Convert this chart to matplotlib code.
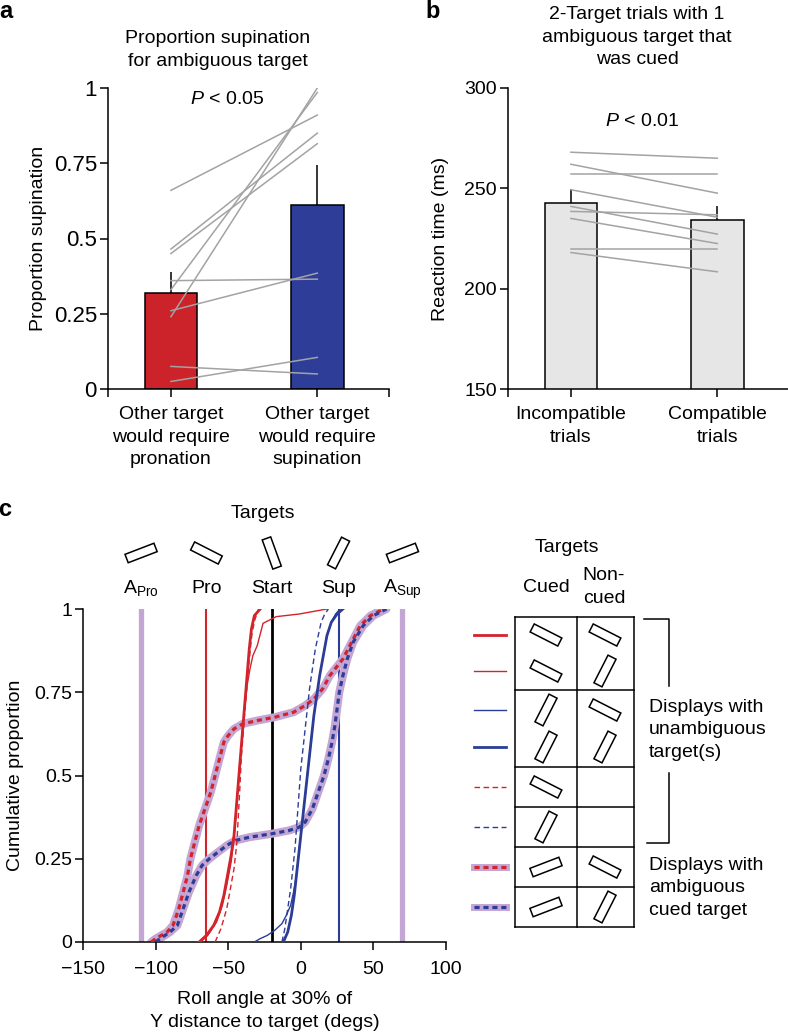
import numpy as np
import matplotlib
matplotlib.use('Agg')
import matplotlib.pyplot as plt
from matplotlib.patches import Polygon
import matplotlib.transforms as mtransforms

plt.rcParams['font.family'] = ['Liberation Sans', 'DejaVu Sans']
plt.rcParams['font.size'] = 14
plt.rcParams['mathtext.fontset'] = 'custom'
plt.rcParams['mathtext.rm'] = 'Liberation Sans'
plt.rcParams['mathtext.it'] = 'Liberation Sans:italic'
plt.rcParams['mathtext.bf'] = 'Liberation Sans:bold'
plt.rcParams['mathtext.default'] = 'regular'
plt.rcParams['axes.linewidth'] = 1.1

# ---- panel a data ----
a_conditions = ['Other target\nwould require\npronation', 'Other target\nwould require\nsupination']
a_means = [0.32, 0.61]
a_sem = [0.07, 0.135]
a_subj_pro = [0.66, 0.465, 0.45, 0.33, 0.24, 0.36, 0.26, 0.075, 0.025]
a_subj_sup = [0.91, 0.85, 0.815, 0.985, 1.0, 0.365, 0.385, 0.05, 0.105]

# ---- panel b data ----
b_conditions = ['Incompatible\ntrials', 'Compatible\ntrials']
b_means = [242.5, 234.0]
b_sem = [7.0, 7.3]
b_subj_incomp = [268, 262, 257.3, 249.3, 241, 238.5, 235, 219.7, 218]
b_subj_comp = [265, 247.6, 257.3, 235.6, 227.2, 236.8, 222.5, 219.7, 208.4]

# ---- panel c data ----
target_names = ['A$_{Pro}$', 'Pro', 'Start', 'Sup', 'A$_{Sup}$']
target_roll = [-110, -65, -20, 26, 70]
target_tilt = [21, -27, -70, 63, 21]

# cumulative curves: roll angle (x) at cumulative proportion (y)
pro_pro_x = [-70, -65, -60, -56, -53, -50.5, -48, -46, -44.5, -43, -41.5, -40, -38.5, -37, -35.5, -34, -32, -28]
pro_pro_y = [0, 0.02, 0.05, 0.09, 0.14, 0.2, 0.26, 0.32, 0.4, 0.48, 0.56, 0.64, 0.72, 0.8, 0.88, 0.94, 0.98, 1.0]

pro_sup_x = [-69, -64, -58, -54, -51, -48, -46, -44.5, -43, -41.5, -40, -38.5, -37, -35, -33, -30, -26, -17, -1, 18]
pro_sup_y = [0, 0.02, 0.06, 0.11, 0.17, 0.24, 0.31, 0.39, 0.48, 0.56, 0.64, 0.71, 0.77, 0.82, 0.86, 0.89, 0.957, 0.977, 0.985, 1.0]

pro_only_x = [-59, -55, -51, -48.5, -46, -44, -43, -42, -41, -39.5, -38, -36.5, -35, -33.5, -31.5, -29]
pro_only_y = [0, 0.04, 0.1, 0.16, 0.22, 0.3, 0.38, 0.46, 0.55, 0.64, 0.72, 0.8, 0.87, 0.93, 0.97, 1.0]

sup_sup_x = [-12, -9, -6.5, -4.5, -3, -1.5, 0, 1.5, 3, 4.5, 6, 7.5, 9, 11, 13, 15.5, 18, 21, 25, 29]
sup_sup_y = [0, 0.03, 0.08, 0.14, 0.2, 0.26, 0.32, 0.38, 0.44, 0.5, 0.56, 0.62, 0.68, 0.74, 0.8, 0.86, 0.92, 0.96, 0.985, 1.0]

sup_pro_x = [-32, -28, -23, -18, -13, -10, -7, -5, -3, -1.5, 0, 1.5, 3, 4.5, 6, 7.5, 9, 11, 13, 15.5, 18, 21, 24, 27]
sup_pro_y = [0, 0.01, 0.02, 0.035, 0.055, 0.08, 0.11, 0.15, 0.2, 0.26, 0.32, 0.38, 0.44, 0.5, 0.56, 0.62, 0.68, 0.74, 0.8, 0.86, 0.92, 0.96, 0.985, 1.0]

sup_only_x = [-13, -11, -9, -7, -5.5, -4, -3, -2, -1, 0, 1.5, 3, 4.5, 6, 8, 10, 12, 14, 16.5, 19]
sup_only_y = [0, 0.04, 0.1, 0.16, 0.22, 0.28, 0.34, 0.4, 0.46, 0.52, 0.58, 0.64, 0.7, 0.76, 0.82, 0.88, 0.92, 0.96, 0.985, 1.0]

amb_pro_x = [-103, -100, -92, -88, -84, -81, -78, -76, -73, -70, -66, -62, -59, -56, -53, -50, -46, -40, -30, -18, -5, 3, 9, 15, 20, 29, 35, 41, 48, 57]
amb_pro_y = [0, 0.01, 0.03, 0.05, 0.1, 0.15, 0.2, 0.25, 0.3, 0.35, 0.4, 0.45, 0.5, 0.55, 0.6, 0.62, 0.64, 0.655, 0.665, 0.675, 0.69, 0.71, 0.73, 0.76, 0.8, 0.85, 0.9, 0.95, 0.98, 1.0]

amb_sup_x = [-100, -97, -90, -85, -81, -77, -72, -68, -63, -57, -51, -45, -35, -20, -8, -1, 3, 8, 12, 16, 19, 21.5, 23.5, 25, 26.5, 29, 32, 36, 43, 50, 59]
amb_sup_y = [0, 0.01, 0.03, 0.05, 0.1, 0.15, 0.2, 0.23, 0.25, 0.27, 0.29, 0.305, 0.315, 0.325, 0.335, 0.345, 0.36, 0.4, 0.45, 0.5, 0.55, 0.6, 0.65, 0.7, 0.75, 0.8, 0.85, 0.9, 0.95, 0.98, 1.0]

RED = '#d3232b'
BLUE = '#2c3d98'
LILAC = '#c4a6d4'
GRAY = '#a3a3a3'

W, H = 788, 1034
fig = plt.figure(figsize=(W / 100, H / 100), dpi=100)


def box(l, t, r, b):
    return [l / W, 1 - b / H, (r - l) / W, (b - t) / H]


def style(ax):
    for s in ['top', 'right']:
        ax.spines[s].set_visible(False)
    ax.tick_params(which='both', direction='out', width=1.1, length=6, pad=2)


# ---------------- panel a ----------------
ax_a = fig.add_axes(box(108, 88, 389, 389))
style(ax_a)
xp = np.arange(1, 3)
ax_a.bar(xp, a_means, width=0.36, color=['#cc2229', '#2e3e98'], edgecolor='black', lw=1.1, zorder=2)
ax_a.errorbar(xp, a_means, yerr=[np.zeros(2), a_sem], fmt='none', ecolor='black', elinewidth=1.1, capsize=0, zorder=1)
for p, s in zip(a_subj_pro, a_subj_sup):
    ax_a.plot([1, 2], [p, s], color=GRAY, lw=1.1, zorder=3)
ax_a.set_xlim(0.57, 2.49)
ax_a.set_ylim(0, 1)
ax_a.set_yticks([0, 0.25, 0.5, 0.75, 1])
ax_a.set_yticklabels(['0', '0.25', '0.5', '0.75', '1'], fontsize=16)
ax_a.set_xticks(xp)
ax_a.set_xticklabels(a_conditions, linespacing=1.45)
ax_a.set_xticks([0.57, 2.49], minor=True)
ax_a.tick_params(axis='x', which='major', pad=6)
ax_a.set_ylabel('Proportion supination', labelpad=5)

# ---------------- panel b ----------------
ax_b = fig.add_axes(box(508, 88, 789, 389))
style(ax_b)
ax_b.bar(xp, b_means, width=0.36, color='#e6e6e6', edgecolor='black', lw=1.1, zorder=2)
ax_b.errorbar(xp, b_means, yerr=[np.zeros(2), b_sem], fmt='none', ecolor='black', elinewidth=1.1, capsize=0, zorder=1)
for p, s in zip(b_subj_incomp, b_subj_comp):
    ax_b.plot([1, 2], [p, s], color=GRAY, lw=1.1, zorder=3)
ax_b.set_xlim(0.57, 2.49)
ax_b.set_ylim(150, 300)
ax_b.set_yticks([150, 200, 250, 300])
ax_b.set_xticks(xp)
ax_b.set_xticklabels(b_conditions, linespacing=1.45)
ax_b.set_xticks([0.57, 2.49], minor=True)
ax_b.tick_params(axis='x', which='major', pad=6)
ax_b.set_ylabel('Reaction time (ms)', labelpad=11)

# ---------------- panel c ----------------
ax_c = fig.add_axes(box(83, 609, 446, 942))
style(ax_c)
ax_c.set_xlim(-150, 100)
ax_c.set_ylim(0, 1)
ax_c.set_xticks(np.arange(-150, 101, 50))
ax_c.set_yticks([0, 0.25, 0.5, 0.75, 1])
ax_c.set_yticklabels(['0', '0.25', '0.5', '0.75', '1'])
ax_c.tick_params(axis='x', pad=8)
ax_c.set_ylabel('Cumulative proportion', labelpad=7)
ax_c.set_xlabel('Roll angle at 30% of\nY distance to target (degs)', labelpad=9, linespacing=1.45)

line_cols = [LILAC, RED, 'black', BLUE, LILAC]
line_lws = [3.8, 1.5, 2.0, 1.5, 3.8]
for xv, c, lw in zip(target_roll, line_cols, line_lws):
    ax_c.plot([xv, xv], [0, 1], color=c, lw=lw, zorder=1)

amb_dash = (0, (1.6, 1.2))
ax_c.plot(amb_pro_x, amb_pro_y, color=LILAC, lw=5.8, solid_capstyle='round', zorder=2)
ax_c.plot(amb_sup_x, amb_sup_y, color=LILAC, lw=5.8, solid_capstyle='round', zorder=2)
ax_c.plot(amb_pro_x, amb_pro_y, color=RED, lw=2.3, ls=amb_dash, zorder=3)
ax_c.plot(amb_sup_x, amb_sup_y, color=BLUE, lw=2.3, ls=amb_dash, zorder=3)

ax_c.plot(pro_pro_x, pro_pro_y, color=RED, lw=2.0, zorder=4)
ax_c.plot(pro_sup_x, pro_sup_y, color=RED, lw=1.0, zorder=4)
ax_c.plot(pro_only_x, pro_only_y, color=RED, lw=1.0, ls=(0, (4, 2.5)), zorder=4)
ax_c.plot(sup_sup_x, sup_sup_y, color=BLUE, lw=2.0, zorder=4)
ax_c.plot(sup_pro_x, sup_pro_y, color=BLUE, lw=1.0, zorder=4)
ax_c.plot(sup_only_x, sup_only_y, color=BLUE, lw=1.0, ls=(0, (4, 2.5)), zorder=4)

lab_tr = mtransforms.blended_transform_factory(ax_c.transData, ax_c.transAxes)
for xv, name in zip(target_roll, target_names):
    ax_c.text(xv, 1.048, name, transform=lab_tr, ha='center', va='baseline')

# ---------------- overlay for annotations / legend ----------------
ov = fig.add_axes([0, 0, 1, 1])
ov.set_xlim(0, W)
ov.set_ylim(H, 0)
ov.axis('off')


def icon(cx, cy, tilt, length=31, width=9):
    t = np.deg2rad(tilt)
    u = np.array([np.cos(t), -np.sin(t)])
    v = np.array([np.sin(t), np.cos(t)])
    c = np.array([cx, cy])
    pts = [c + u * length / 2 + v * width / 2, c - u * length / 2 + v * width / 2,
           c - u * length / 2 - v * width / 2, c + u * length / 2 - v * width / 2]
    ov.add_patch(Polygon(pts, closed=True, fill=False, ec='black', lw=1.1))


# panel letters and titles
ov.text(6, 12, 'a', fontsize=17, weight='bold', ha='center', va='center')
ov.text(433, 11, 'b', fontsize=17, weight='bold', ha='center', va='center')
ov.text(5, 509, 'c', fontsize=17, weight='bold', ha='center', va='center')
ov.text(218, 50, 'Proportion supination\nfor ambiguous target', ha='center', va='center', linespacing=1.4)
ov.text(637, 37, '2-Target trials with 1\nambiguous target that\nwas cued', ha='center', va='center', linespacing=1.4)
ov.text(227, 99, r'$\mathit{P}$ < 0.05', ha='center', va='center')
ov.text(642, 122, r'$\mathit{P}$ < 0.01', ha='center', va='center')
ov.text(263, 513, 'Targets', ha='center', va='center')

# target icons above panel c
to_ov = ax_c.transData + ov.transData.inverted()
for xv, tilt in zip(target_roll, target_tilt):
    px = to_ov.transform((xv, 0))[0]
    icon(px, 553, tilt)

# legend table for panel c
ov.text(567, 548, 'Targets', ha='center', va='center')
ov.text(546, 587, 'Cued', ha='center', va='center')
ov.text(604, 587, 'Non-\ncued', ha='center', va='center', linespacing=1.4)

tab_l, tab_m, tab_r = 515, 577, 634
row_edges = [617, 690, 767, 807, 847, 887, 927]
for yv in row_edges:
    ov.plot([tab_l, tab_r], [yv, yv], color='black', lw=1.1)
for xv in [tab_l, tab_m, tab_r]:
    ov.plot([xv, xv], [row_edges[0], row_edges[-1]], color='black', lw=1.1)

PRO, SUP, AMB = -27, 63, 21
leg_y = [635, 671, 710, 747, 787, 827, 867, 907]
cued = [PRO, PRO, SUP, SUP, PRO, SUP, AMB, AMB]
noncued = [PRO, SUP, PRO, SUP, None, None, PRO, SUP]
for yv, cu, nc in zip(leg_y, cued, noncued):
    icon(546, yv, cu)
    if nc is not None:
        icon(605, yv, nc)

lx = [474, 506]
ov.plot(lx, [leg_y[0]] * 2, color=RED, lw=2.0)
ov.plot(lx, [leg_y[1]] * 2, color=RED, lw=1.0)
ov.plot(lx, [leg_y[2]] * 2, color=BLUE, lw=1.0)
ov.plot(lx, [leg_y[3]] * 2, color=BLUE, lw=2.0)
ov.plot(lx, [leg_y[4]] * 2, color=RED, lw=1.0, ls=(0, (4, 2.5)))
ov.plot(lx, [leg_y[5]] * 2, color=BLUE, lw=1.0, ls=(0, (4, 2.5)))
ov.plot(lx, [leg_y[6]] * 2, color=LILAC, lw=5.0)
ov.plot(lx, [leg_y[6]] * 2, color=RED, lw=2.3, ls=amb_dash)
ov.plot(lx, [leg_y[7]] * 2, color=LILAC, lw=5.0)
ov.plot(lx, [leg_y[7]] * 2, color=BLUE, lw=2.3, ls=amb_dash)

# bracket
ov.plot([644, 669, 669], [619, 619, 686], color='black', lw=1.1)
ov.plot([669, 669, 647], [773, 843, 843], color='black', lw=1.1)
ov.text(649, 730, 'Displays with\nunambiguous\ntarget(s)', ha='left', va='center', linespacing=1.45)
ov.text(649, 888, 'Displays with\nambiguous\ncued target', ha='left', va='center', linespacing=1.45)

fig.savefig('out.png', dpi=100)
